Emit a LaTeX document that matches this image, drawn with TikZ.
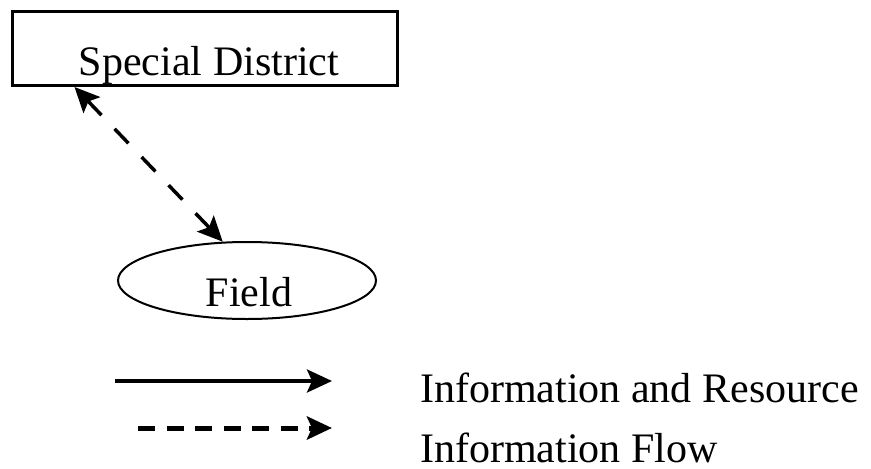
\documentclass[tikz,border=0pt]{standalone}
\usepackage{fontspec}
\setmainfont{Liberation Serif}
\usetikzlibrary{arrows.meta,shapes.geometric}
\tikzset{
  big/.style={font=\fontsize{42}{50}\selectfont},
  sdbox/.style={draw, line width=3pt, rectangle, inner sep=0pt, minimum width=385pt, minimum height=74.5pt, text height=53.5pt, text depth=0pt, big},
  fieldnode/.style={draw, line width=2pt, ellipse, inner sep=0pt, minimum width=258pt, minimum height=77pt, text height=51pt, text depth=0pt, big},
  tip/.style={-{Stealth[length=25pt,width=23pt,inset=5pt]}},
  dashflow/.style={line width=3.5pt, dash pattern=on 20pt off 19pt},
  legtext/.style={anchor=base west, inner sep=0pt, big}
}
\begin{document}
\begin{tikzpicture}[x=1pt,y=-1pt]
\useasboundingbox (0,0) rectangle (871,469);
\node[sdbox] (sd) at (204.5,48.25) {\hspace{9pt}Special District};
\node[fieldnode] (field) at (247,280.5) {\hspace{4pt}Field};
\draw[dashflow, {Stealth[length=25pt,width=23pt,inset=5pt]}-{Stealth[length=25pt,width=23pt,inset=5pt]}] ([xshift=64pt]sd.south west) -- (field.122);
\coordinate (s1) at (115,381);
\coordinate (e1) at (332,381);
\coordinate (s2) at (138,428);
\coordinate (e2) at (332,428);
\draw[tip, line width=3.5pt] (s1) -- (e1);
\draw[tip, line width=5pt, dash pattern=on 17pt off 11.5pt] (s2) -- (e2);
\node[legtext] (l1) at (420,402) {Information and Resource};
\node[legtext] (l2) at (420,462) {Information Flow};
\end{tikzpicture}
\end{document}
